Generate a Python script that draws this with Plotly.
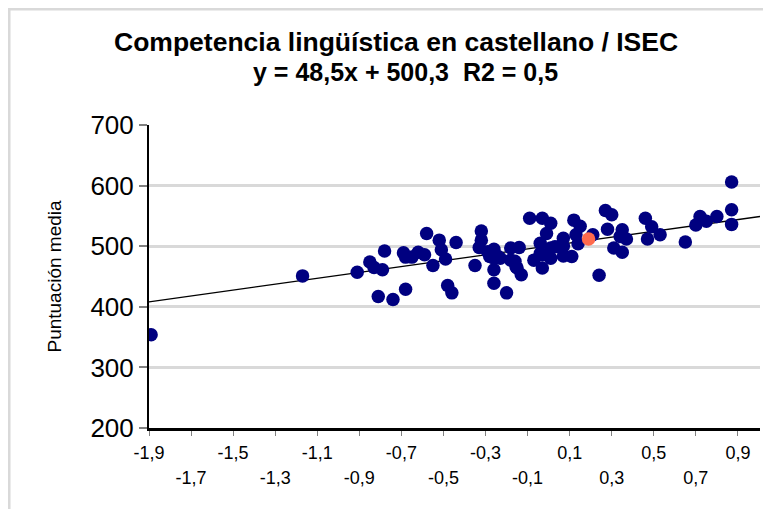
import plotly.graph_objects as go

# ---- data ----
isec = [-1.89, -1.17, -0.91, -0.85, -0.83, -0.79, -0.78, -0.81, -0.74, -0.68,
        -0.69, -0.68, -0.65, -0.62, -0.59, -0.58, -0.55, -0.52, -0.51, -0.49,
        -0.44, -0.48, -0.46,
        -0.35, -0.32, -0.32, -0.33, -0.29, -0.26, -0.28, -0.24, -0.26, -0.26,
        -0.20, -0.18, -0.14, -0.18, -0.155, -0.13, -0.09, -0.03, 0.01, -0.01,
        -0.04, -0.07, -0.04, -0.03, 0.01, 0.01, 0.05, 0.07, 0.07, 0.11,
        0.12, 0.15, 0.13, 0.14, 0.07, 0.21, 0.24, 0.27, 0.30, 0.28,
        0.35, 0.34, 0.37, 0.31, 0.35, 0.46, 0.49, 0.47, 0.53, 0.65,
        0.70, 0.72, 0.75, 0.80, 0.87, 0.87, 0.87,
        -0.26, -0.23, -0.16, -0.15, -0.03, 0.03]
puntuacion = [354, 451, 457, 474, 465, 461, 492, 417, 412, 429,
              489, 482, 482, 490, 486, 521, 468, 510, 494, 479,
              506, 435, 423,
              468, 525, 510, 498, 491, 495, 483, 483, 461, 439,
              423, 497, 498, 477, 466, 453, 546, 546, 538, 521,
              505, 477, 488, 464, 497, 480, 499, 513, 484, 483,
              543, 533, 519, 504, 500, 519, 452, 559, 552, 528,
              527, 516, 512, 497, 490, 546, 532, 512, 519, 507,
              535, 549, 541, 549, 606, 560, 536,
              480, 480, 475, 464, 486, 499]
highlight_x = [0.19]
highlight_y = [512]

slope = 48.5
intercept = 500.3
line_x = [-1.9, 1.005]
line_y = [slope * v + intercept for v in line_x]

x_tickvals = [-1.9, -1.7, -1.5, -1.3, -1.1, -0.9, -0.7, -0.5, -0.3, -0.1, 0.1, 0.3, 0.5, 0.7, 0.9]
x_ticklabels = ["-1,9", "-1,7", "-1,5", "-1,3", "-1,1", "-0,9", "-0,7", "-0,5",
                "-0,3", "-0,1", "0,1", "0,3", "0,5", "0,7", "0,9"]
y_tickvals = [200, 300, 400, 500, 600, 700]

title_line1 = "Competencia lingüística en castellano / ISEC"
title_line2 = "y = 48,5x + 500,3  R2 = 0,5"
y_title = "Puntuación media"

# staggered labels: upper row on main axis, lower row on an overlay axis
upper_text = [lbl if i % 2 == 0 else "" for i, lbl in enumerate(x_ticklabels)]
lower_vals = [v for i, v in enumerate(x_tickvals) if i % 2 == 1]
lower_text = [lbl for i, lbl in enumerate(x_ticklabels) if i % 2 == 1]

FONT = "Liberation Sans, Arial, sans-serif"
X_RANGE = [-1.9, 1.005]

fig = go.Figure()
fig.add_trace(go.Scatter(x=line_x, y=line_y, mode="lines",
                         line=dict(color="black", width=1.3),
                         hoverinfo="skip", showlegend=False))
fig.add_trace(go.Scatter(x=isec, y=puntuacion, mode="markers",
                         marker=dict(color="#000080", size=13.5, line=dict(width=0)),
                         showlegend=False))
fig.add_trace(go.Scatter(x=highlight_x, y=highlight_y, mode="markers",
                         marker=dict(color="#FF6A4D", size=13.5, line=dict(width=0)),
                         showlegend=False))
# invisible trace to bind the overlay axis
fig.add_trace(go.Scatter(x=line_x, y=line_y, xaxis="x2", mode="lines",
                         line=dict(width=0, color="rgba(0,0,0,0)"),
                         hoverinfo="skip", showlegend=False))

fig.update_layout(
    width=763, height=501,
    margin=dict(l=141, r=11, t=117, b=81),
    paper_bgcolor="white", plot_bgcolor="white",
    font=dict(family=FONT, color="black"),
    showlegend=False,
    xaxis=dict(
        range=X_RANGE, tickvals=x_tickvals, ticktext=upper_text,
        showgrid=False, zeroline=False,
        showline=True, linecolor="black", linewidth=2.5,
        ticks="outside", ticklen=5, tickcolor="#808080", tickwidth=1,
        tickfont=dict(size=18, family=FONT, color="black"),
        tickangle=0, ticklabelstandoff=2,
    ),
    xaxis2=dict(
        range=X_RANGE, overlaying="x", anchor="y", side="bottom",
        tickvals=lower_vals, ticktext=lower_text,
        showgrid=False, zeroline=False, showline=False,
        ticks="outside", ticklen=5, tickcolor="rgba(0,0,0,0)",
        tickfont=dict(size=18, family=FONT, color="black"),
        tickangle=0, ticklabelstandoff=28,
    ),
    yaxis=dict(
        range=[200, 700], tickvals=y_tickvals,
        showgrid=True, gridcolor="#d9d9d9", gridwidth=2.5,
        zeroline=False,
        showline=True, linecolor="black", linewidth=2,
        ticks="outside", ticklen=8, tickcolor="#808080", tickwidth=1.5,
        tickfont=dict(size=26, family=FONT, color="black"),
        title=dict(text=y_title, font=dict(size=19, family=FONT, color="black"), standoff=24),
    ),
)

fig.add_annotation(text=title_line1, xref="paper", yref="paper",
                   x=0.404, y=1.274, xanchor="center", yanchor="middle", showarrow=False,
                   font=dict(family=FONT, size=26.5, color="black", weight="bold"))
fig.add_annotation(text=title_line2, xref="paper", yref="paper",
                   x=0.42, y=1.175, xanchor="center", yanchor="middle", showarrow=False,
                   font=dict(family=FONT, size=25, color="black", weight="bold"))

# light gray chart frame at the figure's edges
fig.add_shape(type="rect", xref="paper", yref="paper",
              x0=-0.2291, y0=-0.5, x1=1.2, y1=1.3828,
              line=dict(color="#d9d9d9", width=3), fillcolor="rgba(0,0,0,0)", layer="above")

fig.write_html("out.html")
